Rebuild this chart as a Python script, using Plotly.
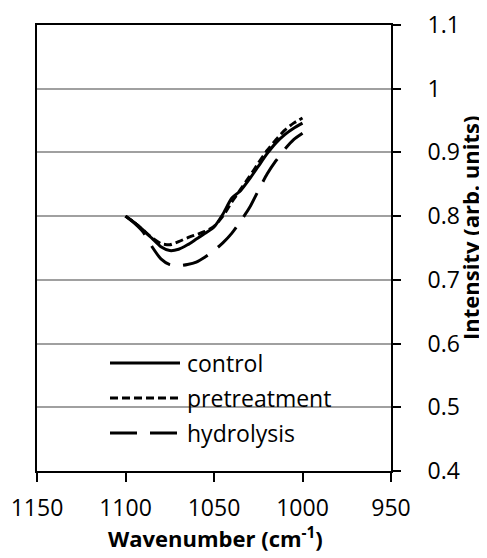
import plotly.graph_objects as go

wavenumber = [1100, 1095, 1090, 1085, 1080, 1075, 1070, 1065, 1060, 1055, 1050,
              1045, 1040, 1035, 1030, 1025, 1020, 1015, 1010, 1005, 1000]
control = [0.800, 0.790, 0.778, 0.765, 0.752, 0.746, 0.748, 0.755, 0.764, 0.773, 0.783,
           0.803, 0.828, 0.840, 0.858, 0.878, 0.898, 0.915, 0.928, 0.938, 0.946]
pretreatment = [0.800, 0.790, 0.778, 0.766, 0.757, 0.755, 0.760, 0.766, 0.771, 0.776, 0.784,
                0.800, 0.822, 0.842, 0.862, 0.883, 0.903, 0.920, 0.935, 0.946, 0.954]
hydrolysis = [0.800, 0.789, 0.775, 0.752, 0.733, 0.724, 0.722, 0.724, 0.728, 0.736, 0.746,
              0.758, 0.773, 0.792, 0.813, 0.840, 0.866, 0.887, 0.905, 0.920, 0.930]

series_names = ["control", "pretreatment", "hydrolysis"]
series_values = [control, pretreatment, hydrolysis]
dashes = ["solid", "8px,4px", "27px,13px"]

FONT = "Open Sans"
fig = go.Figure()
for name, vals, dash in zip(series_names, series_values, dashes):
    fig.add_trace(go.Scatter(x=wavenumber, y=vals, mode="lines", name=name,
                             line=dict(color="black", width=3, dash=dash, shape="spline", smoothing=0.6),
                             showlegend=False))

# page body has an 8px margin: figure origin sits at (8, 8) in the window
OFF = 8
VW, VH = 487, 558
W, H = VW - OFF, VH - OFF
# plot area in window pixels
L, R, T, B = 37, 391, 25, 471
pw, ph = R - L, B - T

def px(xp):
    return (xp - L) / pw

def py(yp):
    return (B - yp) / ph

shapes = [dict(type="rect", xref="paper", yref="paper", x0=px(62), x1=px(374), y0=py(446), y1=py(342),
               fillcolor="white", line=dict(width=0), layer="between")]
annotations = []
row_y = [363, 398, 433]
for name, dash, yy in zip(series_names, dashes, row_y):
    shapes.append(dict(type="line", xref="paper", yref="paper", x0=px(110), x1=px(180), y0=py(yy), y1=py(yy),
                       line=dict(color="black", width=3, dash=dash)))
    annotations.append(dict(text=name, xref="paper", yref="paper", x=px(185), y=py(yy), xanchor="left",
                            yanchor="middle", showarrow=False, font=dict(family=FONT, size=23, color="black")))

annotations.append(dict(text="<b>Wavenumber (cm<sup>-1</sup>)</b>", xref="paper", yref="paper",
                        x=px(216), y=py(537), xanchor="center", yanchor="middle", showarrow=False,
                        font=dict(family=FONT, size=22, color="black")))
annotations.append(dict(text="<b>Intensity (arb. units)</b>", xref="paper", yref="paper",
                        x=px(470), y=py(228), xanchor="center", yanchor="middle", textangle=-90,
                        showarrow=False, font=dict(family=FONT, size=22, color="black")))

fig.update_layout(
    template="none",
    width=W, height=H,
    margin=dict(l=L - OFF, r=VW - R, t=T - OFF, b=VH - B, autoexpand=False),
    paper_bgcolor="white", plot_bgcolor="white",
    font=dict(family=FONT, size=23, color="black"),
    showlegend=False,
    shapes=shapes, annotations=annotations,
    xaxis=dict(range=[1150, 950], tickmode="array", tickvals=[1150, 1100, 1050, 1000, 950],
               ticktext=["1150", "1100", "1050", "1000", "950"], automargin=False,
               showgrid=False, zeroline=False, showline=True, linecolor="black", linewidth=2,
               mirror=True, ticks="outside", ticklen=9, tickwidth=2, tickcolor="black",
               ticklabelstandoff=6),
    yaxis=dict(range=[0.4, 1.1], dtick=0.1, tick0=0.4, side="right", automargin=False,
               showgrid=True, gridcolor="#a0a0a0", gridwidth=2, zeroline=False,
               showline=True, linecolor="black", linewidth=2, mirror=True,
               ticks="outside", ticklen=8, tickwidth=2, tickcolor="black",
               ticklabelstandoff=22),
    yaxis2=dict(range=[0.4, 1.1], dtick=0.1, tick0=0.4, side="right", overlaying="y", anchor="x",
                automargin=False, showgrid=False, zeroline=False, showline=False, showticklabels=False,
                ticks="inside", ticklen=7, tickwidth=2, tickcolor="black"),
)
fig.write_html("out.html")
